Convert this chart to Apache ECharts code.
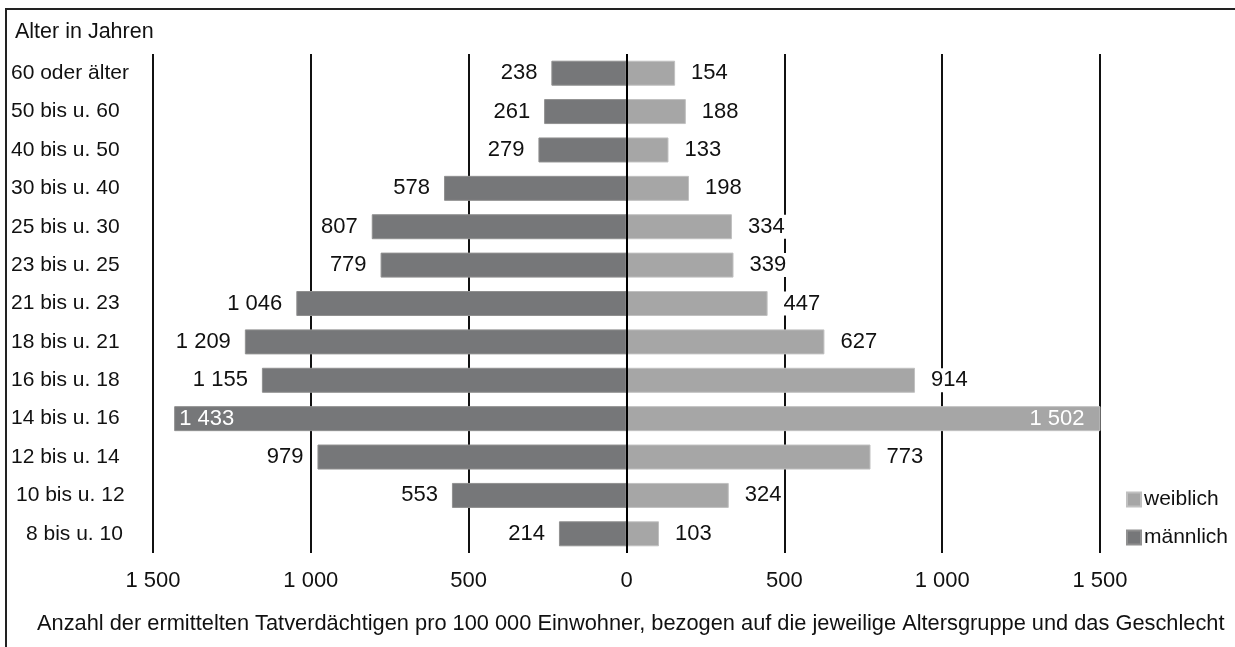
<!DOCTYPE html>
<html>
<head>
<meta charset="utf-8">
<script src="https://cdn.jsdelivr.net/npm/echarts@6/dist/echarts.min.js"></script>
<style>
html,body{margin:0;padding:0;background:#fff;}
#chart{width:1235px;height:647px;}
</style>
</head>
<body>
<div id="chart"></div>
<script>
const categories = ['60 oder älter','50 bis u. 60','40 bis u. 50','30 bis u. 40','25 bis u. 30','23 bis u. 25','21 bis u. 23','18 bis u. 21','16 bis u. 18','14 bis u. 16','12 bis u. 14','10 bis u. 12','8 bis u. 10'];
const maleValues = [238,261,279,578,807,779,1046,1209,1155,1433,979,553,214];
const femaleValues = [154,188,133,198,334,339,447,627,914,1502,773,324,103];
const tickValues = [-1500,-1000,-500,0,500,1000,1500];
const axisTitle = 'Alter in Jahren';
const footnote = 'Anzahl der ermittelten Tatverdächtigen pro 100 000 Einwohner, bezogen auf die jeweilige Altersgruppe und das Geschlecht';

const FONT = 'Liberation Sans, Arial, sans-serif';
function fmt(v){
  v = Math.abs(Math.round(v));
  return String(v).replace(/\B(?=(\d{3})+(?!\d))/g, ' ');
}
const INSIDE_THRESHOLD = 1400;

function buildData(values, sign, insidePos, insideDist){
  return values.map(v => {
    const item = {value: sign * v};
    if (v > INSIDE_THRESHOLD) {
      item.label = {position: insidePos, distance: insideDist, color: '#fff', backgroundColor: 'transparent'};
    }
    return item;
  });
}

const chart = echarts.init(document.getElementById('chart'), null, {renderer:'canvas'});
const labelCommon = {
  show: true,
  fontFamily: FONT,
  fontSize: 22,
  color: '#111',
  backgroundColor: '#fff',
  padding: [1, 2],
  formatter: p => fmt(p.value)
};
chart.setOption({
  animation: false,
  backgroundColor: '#fff',
  textStyle: {fontFamily: FONT},
  graphic: [
    {type:'rect', shape:{x:6, y:9, width:1240, height:660}, style:{fill:'none', stroke:'#222', lineWidth:2}, silent:true, z:0},
    {type:'text', left:15, top:21, style:{text: axisTitle, fontFamily: FONT, fontSize: 21.5, fill:'#111'}},
    {type:'text', left:37, top:613, style:{text: footnote, fontFamily: FONT, fontSize: 21.8, fill:'#111'}}
  ],
  legend: {
    orient: 'vertical',
    left: 1126,
    top: 489,
    padding: 0,
    itemWidth: 14,
    itemHeight: 14,
    itemGap: 17,
    icon: 'rect',
    textStyle: {fontFamily: FONT, fontSize: 21, color:'#111', padding:[0,0,0,-2]},
    data: ['weiblich','männlich']
  },
  grid: {left: 153, right: 135, top: 54, bottom: 94, containLabel: false},
  xAxis: {
    type: 'value',
    min: -1500, max: 1500, interval: 500,
    axisLine: {show:false},
    axisTick: {show:false},
    splitLine: {show:true, lineStyle:{color:'#111', width:2}},
    axisLabel: {
      fontFamily: FONT, fontSize: 22, color:'#111', margin: 17,
      formatter: v => tickValues.indexOf(v) >= 0 ? fmt(v) : ''
    }
  },
  yAxis: {
    type: 'category',
    data: categories,
    inverse: true,
    axisLine: {show:false},
    axisTick: {show:false},
    axisLabel: {
      align: 'left',
      margin: 142,
      fontFamily: FONT, fontSize: 21, color:'#111',
      formatter: v => {
        if (v.indexOf('10 bis') === 0) return '{b|' + v + '}';
        if (v.indexOf('8 bis') === 0) return '{c|' + v + '}';
        return v;
      },
      rich: {
        b: {fontFamily: FONT, fontSize: 21, color:'#111', padding:[0,0,0,5]},
        c: {fontFamily: FONT, fontSize: 21, color:'#111', padding:[0,0,0,15]}
      }
    }
  },
  series: [
    {
      name: 'männlich',
      type: 'bar',
      barWidth: 25,
      barGap: '-100%',
      itemStyle: {color:'#767779', borderColor:'#909090', borderWidth:1},
      label: Object.assign({}, labelCommon, {position:'left', distance: 12}),
      data: buildData(maleValues, -1, 'insideLeft', 3),
      z: 2
    },
    {
      name: 'weiblich',
      type: 'bar',
      barWidth: 25,
      barGap: '-100%',
      itemStyle: {color:'#a6a6a6', borderColor:'#c0c0c0', borderWidth:1},
      label: Object.assign({}, labelCommon, {position:'right', distance: 14}),
      data: buildData(femaleValues, 1, 'insideRight', 14),
      markLine: {
        silent: true,
        symbol: 'none',
        label: {show:false},
        lineStyle: {color:'#000', width:2, type:'solid'},
        data: [{xAxis: 0}],
        z: 10
      },
      z: 2
    }
  ]
});
</script>
</body>
</html>
